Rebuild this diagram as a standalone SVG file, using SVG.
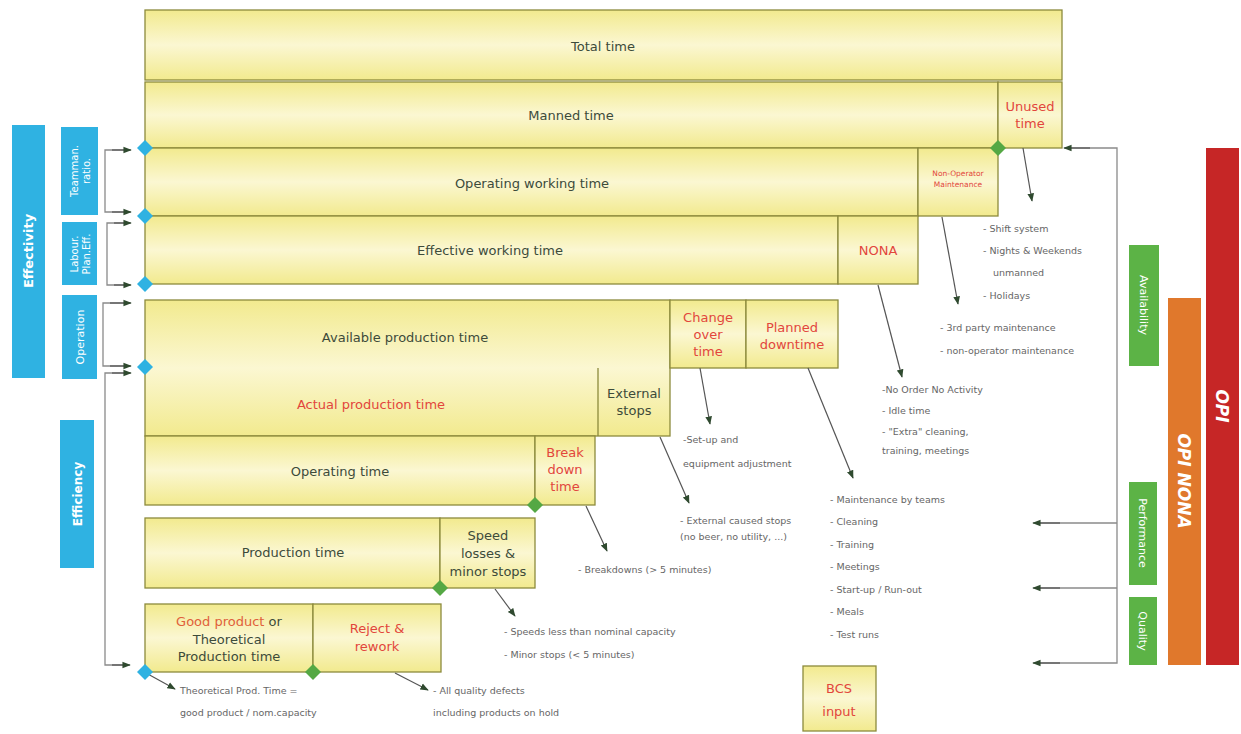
<svg xmlns="http://www.w3.org/2000/svg" width="1241" height="734" viewBox="0 0 1241 734">
<style>
.bx{fill:url(#yg);stroke:#8c8a3c;stroke-width:1.3}
.t{font-family:"DejaVu Sans",Verdana,sans-serif;font-size:13px;fill:#3d4b3a;text-anchor:middle}
.r{fill:#e2463c}
.n{font-family:"DejaVu Sans",Verdana,sans-serif;font-size:9.5px;fill:#666}
.w{font-family:"DejaVu Sans",Verdana,sans-serif;fill:#fff;text-anchor:middle}
.c{fill:none;stroke:#8a8a8a;stroke-width:1.3}
.a{fill:none;stroke:#555;stroke-width:1.2;marker-end:url(#ah)}
.bd{fill:#2fb2e2}
.gd{fill:#55a844}
</style>
<defs>
<linearGradient id="yg" x1="0" y1="0" x2="0" y2="1">
<stop offset="0" stop-color="#f2ea8e"/>
<stop offset="0.5" stop-color="#fbf7d2"/>
<stop offset="1" stop-color="#f2ea8e"/>
</linearGradient>
<marker id="ah" viewBox="0 0 10 10" refX="9" refY="5" markerWidth="7" markerHeight="7" orient="auto">
<path d="M0,1 L10,5 L0,9 z" fill="#2f4a2f"/>
</marker>
</defs>
<rect width="1241" height="734" fill="#fff"/>

<g id="total"><rect class="bx" x="145" y="10" width="917" height="70"/><text class="t" x="603" y="51">Total time</text></g>
<g id="manned"><rect class="bx" x="145" y="82" width="853" height="66"/><text class="t" x="571" y="120">Manned time</text></g>
<g id="unused"><rect class="bx" x="998" y="82" width="64" height="66"/><text class="t r" x="1030" y="111">Unused</text><text class="t r" x="1030" y="128">time</text></g>
<g id="opwork"><rect class="bx" x="145" y="148" width="773" height="68"/><text class="t" x="532" y="188">Operating working time</text></g>
<g id="nonop"><rect class="bx" x="918" y="148" width="80" height="68"/><text class="t r" style="font-size:7.5px" x="958" y="176">Non-Operator</text><text class="t r" style="font-size:7.5px" x="958" y="187">Maintenance</text></g>
<g id="effwork"><rect class="bx" x="145" y="216" width="693" height="68"/><text class="t" x="490" y="255">Effective working time</text></g>
<g id="nona"><rect class="bx" x="838" y="216" width="80" height="68"/><text class="t r" x="878" y="255">NONA</text></g>
<g id="avail"><rect class="bx" x="145" y="300" width="525" height="136"/><text class="t" x="405" y="342">Available production time</text><text class="t r" x="371" y="409">Actual production time</text><line x1="598" y1="368" x2="598" y2="436" stroke="#8c8a3c" stroke-width="1.3"/></g>
<g id="extstops"><text class="t" x="634" y="398">External</text><text class="t" x="634" y="415">stops</text></g>
<g id="changeover"><rect class="bx" x="670" y="300" width="76" height="68"/><text class="t r" x="708" y="322">Change</text><text class="t r" x="708" y="339">over</text><text class="t r" x="708" y="356">time</text></g>
<g id="planned"><rect class="bx" x="746" y="300" width="92" height="68"/><text class="t r" x="792" y="332">Planned</text><text class="t r" x="792" y="349">downtime</text></g>
<g id="optime"><rect class="bx" x="145" y="436" width="390" height="69"/><text class="t" x="340" y="476">Operating time</text></g>
<g id="breakdown"><rect class="bx" x="535" y="436" width="60" height="69"/><text class="t r" x="565" y="457">Break</text><text class="t r" x="565" y="474">down</text><text class="t r" x="565" y="491">time</text></g>
<g id="prodtime"><rect class="bx" x="145" y="518" width="295" height="70"/><text class="t" x="293" y="557">Production time</text></g>
<g id="speed"><rect class="bx" x="440" y="518" width="95" height="70"/><text class="t" x="488" y="540">Speed</text><text class="t" x="488" y="558">losses &amp;</text><text class="t" x="488" y="576">minor stops</text></g>
<g id="good"><rect class="bx" x="145" y="604" width="168" height="68"/><text class="t" x="229" y="626"><tspan fill="#e0603a">Good product</tspan> or</text><text class="t" x="229" y="644">Theoretical</text><text class="t" x="229" y="661">Production time</text></g>
<g id="reject"><rect class="bx" x="313" y="604" width="128" height="68"/><text class="t r" x="377" y="633">Reject &amp;</text><text class="t r" x="377" y="651">rework</text></g>
<g id="bcs"><rect class="bx" x="803" y="666" width="73" height="65"/><text class="t r" x="839" y="693">BCS</text><text class="t r" x="839" y="716">input</text></g>

<g id="effectivity"><rect x="12" y="125" width="33" height="253" fill="#2fb2e2"/><text class="w" style="font-size:13px;font-weight:bold" transform="translate(33,251) rotate(-90)">Effectivity</text></g>
<g id="teamman"><rect x="61" y="127" width="37" height="88" fill="#2fb2e2"/><text class="w" style="font-size:10px" transform="translate(78,171) rotate(-90)">Teamman.</text><text class="w" style="font-size:10px" transform="translate(90,171) rotate(-90)">ratio.</text></g>
<g id="labour"><rect x="62" y="222" width="35" height="63" fill="#2fb2e2"/><text class="w" style="font-size:10px" transform="translate(78,254) rotate(-90)">Labour.</text><text class="w" style="font-size:10px" transform="translate(90,254) rotate(-90)">Plan.Eff.</text></g>
<g id="operation"><rect x="62" y="295" width="35" height="84" fill="#2fb2e2"/><text class="w" style="font-size:11px" transform="translate(84,337) rotate(-90)">Operation</text></g>
<g id="efficiency"><rect x="60" y="420" width="34" height="148" fill="#2fb2e2"/><text class="w" style="font-size:12px;font-weight:bold" transform="translate(82,494) rotate(-90)">Efficiency</text></g>

<g id="availability"><rect x="1129" y="245" width="30" height="121" fill="#5cb346"/><text class="w" style="font-size:11px" transform="translate(1140,305) rotate(90)">Availability</text></g>
<g id="performance"><rect x="1129" y="482" width="28" height="103" fill="#5cb346"/><text class="w" style="font-size:11px" transform="translate(1139,533) rotate(90)">Performance</text></g>
<g id="quality"><rect x="1129" y="597" width="28" height="68" fill="#5cb346"/><text class="w" style="font-size:11px" transform="translate(1139,631) rotate(90)">Quality</text></g>
<g id="opinona"><rect x="1168" y="298" width="33" height="367" fill="#e0782c"/><text class="w" style="font-size:17px;font-weight:bold;font-style:italic" transform="translate(1178,481) rotate(90)">OPI NONA</text></g>
<g id="opi"><rect x="1206" y="148" width="33" height="517" fill="#c62626"/><text class="w" style="font-size:17px;font-weight:bold;font-style:italic" transform="translate(1216,406) rotate(90)">OPI</text></g>

<g id="connectors">
<path class="c" d="M130,150 H105 V212 H130"/>
<path class="a" d="M112,150 H131"/><path class="a" d="M112,212 H131"/>
<path class="c" d="M130,223 H107 V285 H130"/>
<path class="a" d="M114,223 H131"/><path class="a" d="M114,285 H131"/>
<path class="c" d="M130,303 H103 V366 H130"/>
<path class="a" d="M110,303 H131"/><path class="a" d="M110,366 H131"/>
<path class="c" d="M130,373 H105 V665 H128"/>
<path class="a" d="M112,373 H131"/><path class="a" d="M112,665 H130"/>
<path class="c" d="M1065,148 H1117 V663 H1035"/>
<path class="a" d="M1090,148 H1064"/>
<path class="c" d="M1117,523 H1035"/><path class="c" d="M1117,588 H1035"/>
<path class="a" d="M1060,523 H1033"/><path class="a" d="M1060,588 H1033"/><path class="a" d="M1060,663 H1033"/>
<path class="a" d="M1023,148 L1032,201"/>
<path class="a" d="M942,217 L958,304"/>
<path class="a" d="M878,285 L902,377"/>
<path class="a" d="M700,368 L710,424"/>
<path class="a" d="M808,368 L853,478"/>
<path class="a" d="M660,437 L689,503"/>
<path class="a" d="M586,506 L607,551"/>
<path class="a" d="M495,589 L515,616"/>
<path class="a" d="M395,673 L428,690"/>
<path class="a" d="M146,673 L175,689"/>
</g>

<g id="diamonds">
<path class="bd" d="M145,140 l8,8 -8,8 -8,-8z"/>
<path class="bd" d="M145,208 l8,8 -8,8 -8,-8z"/>
<path class="bd" d="M145,276 l8,8 -8,8 -8,-8z"/>
<path class="bd" d="M145,359 l8,8 -8,8 -8,-8z"/>
<path class="bd" d="M145,664 l8,8 -8,8 -8,-8z"/>
<path class="gd" d="M998,140 l8,8 -8,8 -8,-8z"/>
<path class="gd" d="M535,497 l8,8 -8,8 -8,-8z"/>
<path class="gd" d="M440,580 l8,8 -8,8 -8,-8z"/>
<path class="gd" d="M313,664 l8,8 -8,8 -8,-8z"/>
</g>

<g id="notes">
<text class="n" x="983" y="232">- Shift system</text>
<text class="n" x="983" y="254">- Nights &amp; Weekends</text>
<text class="n" x="993" y="276">unmanned</text>
<text class="n" x="983" y="299">- Holidays</text>
<text class="n" x="940" y="331">- 3rd party maintenance</text>
<text class="n" x="940" y="354">- non-operator maintenance</text>
<text class="n" x="882" y="393">-No Order No Activity</text>
<text class="n" x="882" y="414">- Idle time</text>
<text class="n" x="882" y="435">- "Extra" cleaning,</text>
<text class="n" x="882" y="454">training, meetings</text>
<text class="n" x="683" y="443">-Set-up and</text>
<text class="n" x="683" y="467">equipment  adjustment</text>
<text class="n" x="830" y="503">- Maintenance by teams</text>
<text class="n" x="830" y="525">- Cleaning</text>
<text class="n" x="830" y="548">- Training</text>
<text class="n" x="830" y="570">- Meetings</text>
<text class="n" x="830" y="593">- Start-up / Run-out</text>
<text class="n" x="830" y="615">- Meals</text>
<text class="n" x="830" y="638">- Test runs</text>
<text class="n" x="680" y="524">- External caused stops</text>
<text class="n" x="680" y="540">(no beer, no utility, ...)</text>
<text class="n" x="578" y="573">- Breakdowns (&gt; 5 minutes)</text>
<text class="n" x="504" y="635">- Speeds less than nominal capacity</text>
<text class="n" x="504" y="658">- Minor stops (&lt; 5 minutes)</text>
<text class="n" x="433" y="694">- All quality defects</text>
<text class="n" x="433" y="716">including products on hold</text>
<text class="n" x="180" y="694">Theoretical  Prod. Time =</text>
<text class="n" x="180" y="716">good product / nom.capacity</text>
</g>
</svg>
